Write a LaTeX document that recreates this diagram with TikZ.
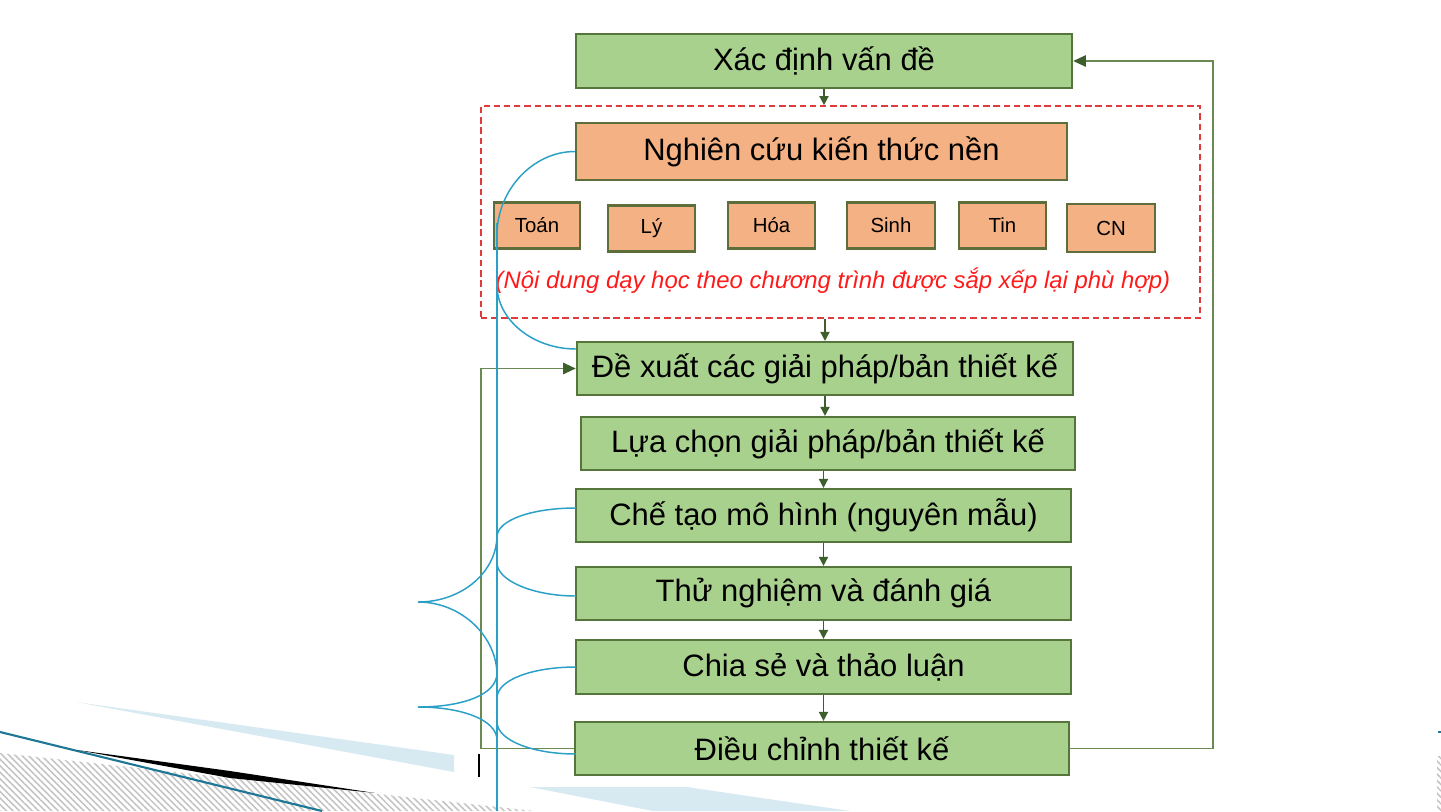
\documentclass[tikz,border=0pt]{standalone}
\usepackage{fontspec}
\setmainfont{Liberation Sans}
\usetikzlibrary{arrows.meta,patterns.meta}
\definecolor{gfill}{HTML}{A9D18E}
\definecolor{ofill}{HTML}{F4B183}
\definecolor{gborder}{HTML}{56753A}
\definecolor{oborder}{HTML}{5E6E3A}
\definecolor{arrcol}{HTML}{3E5F2C}
\definecolor{fbcol}{HTML}{6B8A52}
\definecolor{bluec}{HTML}{2BA0C6}
\definecolor{redd}{HTML}{E03A3A}
\definecolor{redtxt}{HTML}{FF1A1A}
\definecolor{lblue}{HTML}{D7E9F1}
\definecolor{tealc}{HTML}{1E7895}
\definecolor{hatchc}{HTML}{C4C4C4}
\begin{document}
\begin{tikzpicture}[x=0.01cm,y=-0.01cm,
 gbox/.style={draw=gborder, fill=gfill, line width=0.6pt, inner sep=0pt, font=\fontsize{8.8}{10}\selectfont},
 obox/.style={draw=oborder, fill=ofill, line width=0.6pt, inner sep=0pt, font=\fontsize{8.8}{10}\selectfont},
 sbox/.style={draw=oborder, fill=ofill, line width=0.6pt, inner sep=0pt, minimum width=0.87cm, minimum height=0.46cm, font=\fontsize{5.8}{7}\selectfont},
 arr/.style={draw=arrcol, line width=0.45pt, -{Triangle[length=2.6pt,width=2.6pt]}},
 fb/.style={draw=fbcol, line width=0.55pt},
 fbarr/.style={fb, -{Triangle[length=3.6pt,width=3.2pt,color=arrcol]}},
 brc/.style={draw=bluec, line width=0.42pt},
 dashbox/.style={draw=redd, line width=0.45pt, dash pattern=on 1.8pt off 1.1pt, inner sep=0pt}
]
\useasboundingbox (0,0) rectangle (1441,811);

% background decoration (bottom left)
\fill[lblue] (76,702) -- (454,755) -- (454,772) -- cycle;
\fill[lblue] (530,787) -- (687,787) -- (850,811) -- (653,811) -- cycle;
\fill[pattern={Lines[angle=-45,distance=1.3pt,line width=0.45pt]}, pattern color=hatchc] (0,753) -- (535,811) -- (0,811) -- cycle;
\fill[pattern={Lines[angle=-45,distance=1.3pt,line width=0.45pt]}, pattern color=hatchc] (1437,756) rectangle (1441,811);
\draw[tealc, line width=0.6pt] (0,732) -- (322,811);
\draw[tealc, line width=0.6pt] (1438,732) -- (1441,732);
\fill[black] (77,750) -- (230,771) -- (375,793) -- (230,778) -- cycle;
\draw[black, line width=0.45pt] (479,754) -- (479,777);

% dashed group
\node[dashbox, minimum width=7.19cm, minimum height=2.12cm] (dash) at (840.5,212) {};

% boxes
\node[gbox, minimum width=4.96cm, minimum height=0.54cm] (xd) at (824,61) {Xác định vấn đề};
\node[obox, minimum width=4.91cm, minimum height=0.57cm] (nc) at (821.5,151.5) {Nghiên cứu kiến thức nền};
\node[sbox, minimum width=0.86cm] (toan) at (537,225.5) {Toán};
\node[sbox] (ly) at (651.5,228.5) {Lý};
\node[sbox] (hoa) at (771.5,225.5) {Hóa};
\node[sbox, minimum width=0.88cm] (sinh) at (891,225.5) {Sinh};
\node[sbox] (tin) at (1002.5,225.5) {Tin};
\node[sbox, minimum width=0.88cm, minimum height=0.48cm] (cn) at (1111,228) {CN};
\node[text=redtxt, font=\itshape\fontsize{6.8}{8}\selectfont, inner sep=0pt] (nd) at (833,281) {(Nội dung dạy học theo chương trình được sắp xếp lại phù hợp)};

\node[gbox, minimum width=4.96cm, minimum height=0.53cm] (dx) at (825,368.5) {Đề xuất các giải pháp/bản thiết kế};
\node[gbox, minimum width=4.94cm, minimum height=0.53cm] (lc) at (828,443.5) {Lựa chọn giải pháp/bản thiết kế};
\node[gbox, minimum width=4.95cm, minimum height=0.53cm] (ct) at (823.5,515.5) {Chế tạo mô hình (nguyên mẫu)};
\node[gbox, minimum width=4.95cm, minimum height=0.53cm] (tn) at (823.5,593.5) {Thử nghiệm và đánh giá};
\node[gbox, minimum width=4.95cm, minimum height=0.54cm] (cs) at (823.5,667) {Chia sẻ và thảo luận};
\node[gbox, minimum width=4.94cm, minimum height=0.53cm] (dc) at (822,748.5) {Điều chỉnh thiết kế};

% flow arrows
\draw[arr] (xd.south) -- (xd.south |- dash.north);
\draw[arr] (dx.north |- dash.south) -- (dx.north);
\draw[arr] (dx.south) -- (dx.south |- lc.north);
\draw[arr] (ct.north |- lc.south) -- (ct.north);
\draw[arr] (ct.south) -- (tn.north);
\draw[arr] (tn.south) -- (cs.north);
\draw[arr] (cs.south) -- (cs.south |- dc.north);

% feedback loops
\coordinate (r1) at (1213,0);
\coordinate (l1) at (481,0);
\draw[fbarr] (dc.east) -- (dc.east -| r1) -- (xd.east -| r1) -- (xd.east);
\draw[fbarr] (dc.west) -- (dc.west -| l1) -- (dx.west -| l1) -- (dx.west);

% blue braces
\draw[brc] (nc.west) .. controls (533,151.5) and (497,190) .. (497,235) -- (497,285) .. controls (497,320) and (533,349) .. (576,349);
\draw[brc] (497,223) -- (497,811);
\draw[brc] (576,508) .. controls (532,508) and (497,520) .. (497,537);
\draw[brc] (497,563) .. controls (497,580) and (532,596) .. (576,596);
\draw[brc] (497,535) .. controls (497,572) and (462,602) .. (418,602);
\draw[brc] (418,602) .. controls (462,602) and (497,637) .. (497,675);
\draw[brc] (576,667) .. controls (532,667) and (497,680) .. (497,698);
\draw[brc] (497,673) .. controls (497,695) and (462,707) .. (418,707);
\draw[brc] (418,707) .. controls (462,707) and (497,720) .. (497,740);
\draw[brc] (497,722) .. controls (497,740) and (532,754) .. (576,754);
\end{tikzpicture}
\end{document}
